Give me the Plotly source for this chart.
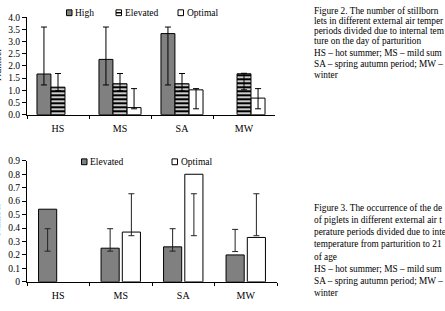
import plotly.graph_objects as go

W, H = 445, 311

# ---------------- data ----------------
categories = ["HS", "MS", "SA", "MW"]

# Figure 2 (top): number of stillborn piglets
top_high = [1.67, 2.27, 3.33, None]
top_high_err_hi = [3.60, 3.60, 3.60, None]
top_high_err_lo = [1.22, 1.22, 1.22, None]

top_elev = [1.13, 1.27, 1.27, 1.68]
top_elev_err_hi = [1.69, 1.69, 1.69, 1.70]
top_elev_err_lo = [0.98, 0.98, 0.97, 1.02]

top_opt = [None, 0.29, 1.02, 0.68]
top_opt_err_hi = [None, 1.07, 1.07, 1.07]
top_opt_err_lo = [None, 0.24, 0.24, 0.24]

# Figure 3 (bottom): occurrence of deaths
bot_elev = [0.54, 0.25, 0.26, 0.20]
bot_elev_err_hi = [0.395, 0.395, 0.395, 0.39]
bot_elev_err_lo = [0.228, 0.228, 0.228, 0.225]

bot_opt = [None, 0.37, 0.80, 0.33]
bot_opt_err_hi = [None, 0.655, 0.655, 0.655]
bot_opt_err_lo = [None, 0.343, 0.343, 0.343]

top_yticks = [0.0, 0.5, 1.0, 1.5, 2.0, 2.5, 3.0, 3.5, 4.0]
bot_yticks = [0, 0.1, 0.2, 0.3, 0.4, 0.5, 0.6, 0.7, 0.8, 0.9]

# caption lines as visible in the reference (the right side is cut by the frame)
caption_top = [
    "Figure 2. The number of stillborn",
    "lets in different external air temper",
    "periods divided due to internal tem",
    "ture on the day of parturition",
    "HS – hot summer; MS – mild sum",
    "SA – spring autumn period; MW –",
    "winter",
]
caption_bot = [
    "Figure 3. The occurrence of the de",
    "of piglets in different external air t",
    "perature periods divided due to inte",
    "temperature from parturition to 21",
    "of age",
    "HS – hot summer; MS – mild sum",
    "SA – spring autumn period; MW –",
    "winter",
]

# ---------------- helpers ----------------
def px(x):
    return x / W

def py(y):
    return 1 - y / H

def errs(vals, hi, lo):
    plus = [None if v is None else h - v for v, h in zip(vals, hi)]
    minus = [None if v is None else v - l for v, l in zip(vals, lo)]
    return plus, minus

FONT = "Liberation Serif"
GRAY = "#808080"

fig = go.Figure()

def add_bar(vals, hi, lo, xa, ya, name, color, pattern=None, errcolor="black"):
    plus, minus = errs(vals, hi, lo)
    marker = dict(color=color, line=dict(color="black", width=1))
    if pattern:
        marker["pattern"] = pattern
    fig.add_trace(go.Bar(
        x=categories, y=vals, name=name, xaxis=xa, yaxis=ya,
        marker=marker, showlegend=False,
        error_y=dict(type="data", symmetric=False, array=plus, arrayminus=minus,
                     color=errcolor, thickness=1, width=3),
    ))

stripes = dict(shape="-", fgcolor="black", bgcolor="white", size=4, solidity=0.6,
               fgopacity=1)

add_bar(top_high, top_high_err_hi, top_high_err_lo, "x", "y", "High", GRAY)
add_bar(top_elev, top_elev_err_hi, top_elev_err_lo, "x", "y", "Elevated", "white", stripes)
add_bar(top_opt, top_opt_err_hi, top_opt_err_lo, "x", "y", "Optimal", "white")

add_bar(bot_elev, bot_elev_err_hi, bot_elev_err_lo, "x2", "y2", "Elevated", GRAY, errcolor="#222")
add_bar(bot_opt, bot_opt_err_hi, bot_opt_err_lo, "x2", "y2", "Optimal", "white", errcolor="#222")

tickfont = dict(family=FONT, size=9.5, color="black")
xcommon = dict(type="category", showline=True, linecolor="black", linewidth=1,
               ticks="outside", tickson="boundaries", ticklen=3, tickcolor="black",
               tickfont=dict(family=FONT, size=10, color="black"), showgrid=False,
               range=[-0.5, 3.5], fixedrange=True, ticklabelstandoff=4)
ycommon = dict(showline=True, linecolor="black", linewidth=1, ticks="outside",
               ticklen=4, tickcolor="black", tickfont=tickfont, showgrid=False,
               zeroline=False, fixedrange=True)

fig.update_layout(
    width=W, height=H, margin=dict(l=0, r=0, t=0, b=0),
    paper_bgcolor="white", plot_bgcolor="white",
    barmode="group", bargap=0.32, showlegend=False,
    font=dict(family=FONT, color="black"),
    xaxis=dict(domain=[px(27), px(275)], anchor="y", **xcommon),
    yaxis=dict(domain=[py(113.3), py(12.7)], anchor="x", range=[0, 4],
               tickvals=top_yticks, tickformat=".1f", **ycommon),
    xaxis2=dict(domain=[px(27), px(277)], anchor="y2", **xcommon),
    yaxis2=dict(domain=[py(286), py(161)], anchor="x2", range=[0, 0.9],
                tickvals=bot_yticks, **ycommon),
)

fig.update_traces(selector=dict(xaxis="x2"), width=0.29)
fig.update_traces(selector=dict(xaxis="x"), width=0.225)

shapes = []
annos = []

def text(x, y, s, size=9.5, anchor="left", angle=0):
    annos.append(dict(x=px(x), y=py(y), xref="paper", yref="paper", text=s,
                      showarrow=False, xanchor=anchor, yanchor="middle",
                      textangle=angle, font=dict(family=FONT, size=size, color="black")))

def square(x0, y0, x1, y1, fill):
    shapes.append(dict(type="rect", xref="paper", yref="paper",
                       x0=px(x0), x1=px(x1), y0=py(y1), y1=py(y0),
                       fillcolor=fill, line=dict(color="black", width=1)))

# top legend
square(66.5, 5, 72, 11, GRAY)
text(73, 8, "High")
square(116, 5, 121.5, 11, "white")
shapes.append(dict(type="line", xref="paper", yref="paper", x0=px(116), x1=px(121.5),
                   y0=py(8), y1=py(8), line=dict(color="black", width=1.5)))
text(123, 8, "Elevated")
square(178, 5, 183.5, 11, "white")
text(184.5, 8, "Optimal")

# bottom legend
square(81.5, 159, 87, 165, GRAY)
text(88, 162, "Elevated")
square(172, 159, 177.5, 165, "white")
text(178.5, 162, "Optimal")

# y titles (clipped at left edge as in the reference)
text(-3, 62, "Number", size=10, anchor="center", angle=-90)
text(-3, 222, "Number", size=10, anchor="center", angle=-90)

# captions
top_y = [5.7, 16.3, 26.9, 37.5, 49.8, 60.8, 72.3]
for s, y in zip(caption_top, top_y):
    text(312, y, s, size=9.3)
bot_y = [209.3, 221.9, 234.3, 246.8, 259.9, 272.6, 285.2, 297.9]
for s, y in zip(caption_bot, bot_y):
    text(312, y, s, size=9.3)

fig.update_layout(shapes=shapes, annotations=annos)

fig.write_html("out.html")
